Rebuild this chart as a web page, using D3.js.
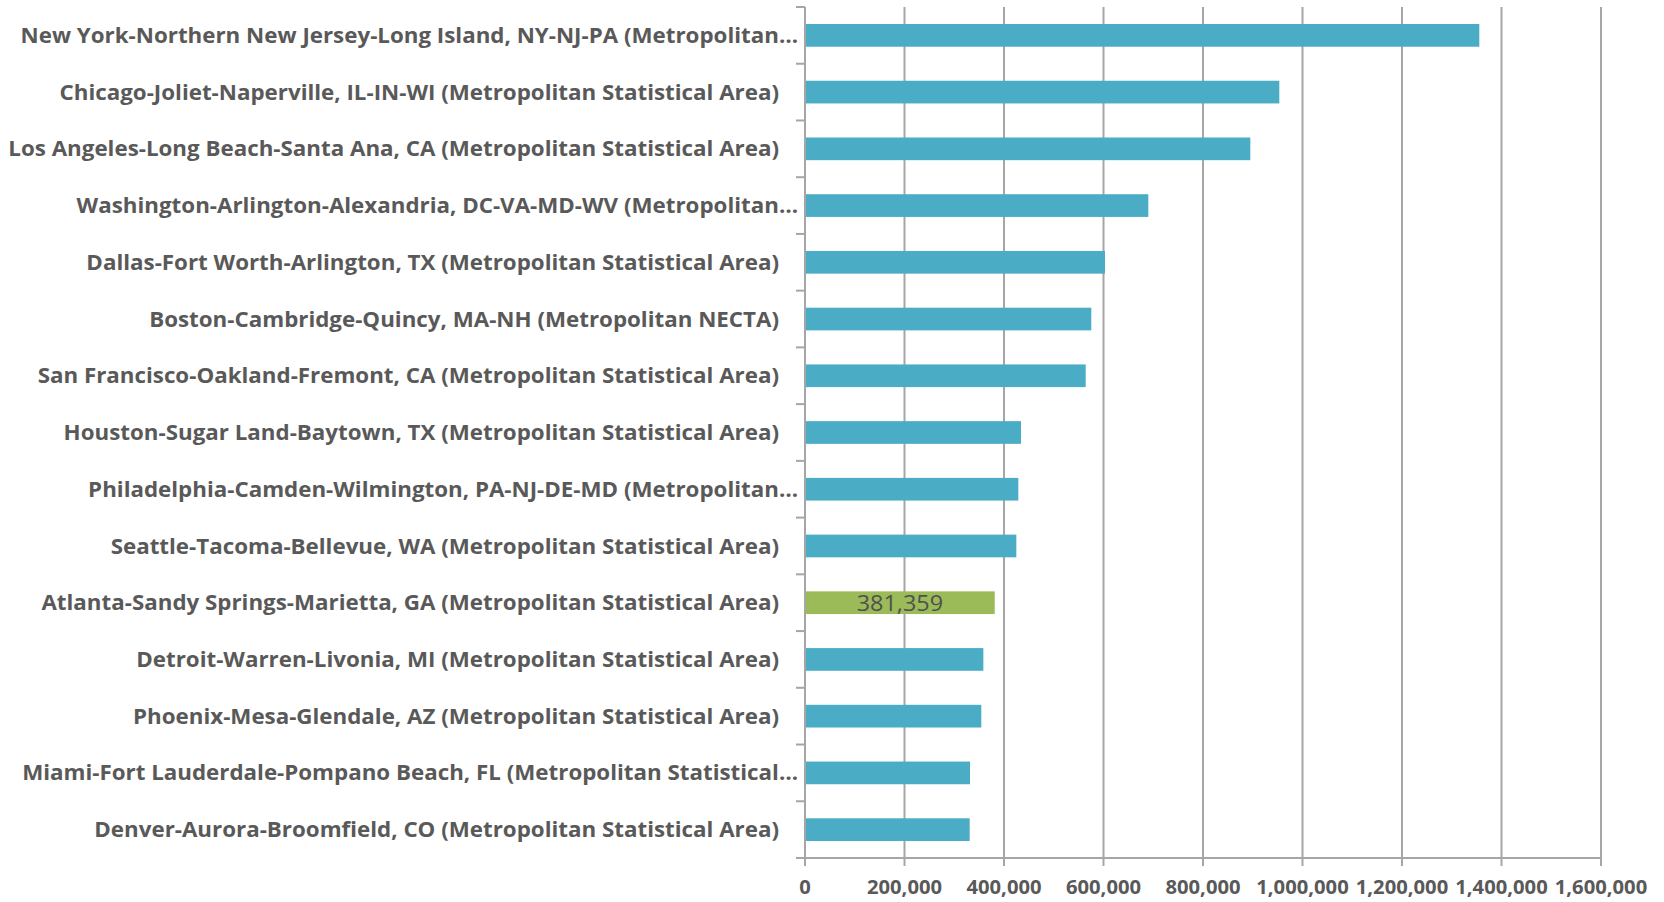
<!DOCTYPE html>
<html>
<head>
<meta charset="utf-8">
<script src="https://cdn.jsdelivr.net/npm/d3@7"></script>
<style>
  html, body { margin: 0; padding: 0; background: #ffffff; }
  svg { display: block; }
  text { font-family: "Open Sans", "DejaVu Sans", sans-serif; }
</style>
</head>
<body>
<svg id="chart" width="1664" height="902"></svg>
<script>
const categories = [
  "New York-Northern New Jersey-Long Island, NY-NJ-PA (Metropolitan…",
  "Chicago-Joliet-Naperville, IL-IN-WI (Metropolitan Statistical Area)",
  "Los Angeles-Long Beach-Santa Ana, CA (Metropolitan Statistical Area)",
  "Washington-Arlington-Alexandria, DC-VA-MD-WV (Metropolitan…",
  "Dallas-Fort Worth-Arlington, TX (Metropolitan Statistical Area)",
  "Boston-Cambridge-Quincy, MA-NH (Metropolitan NECTA)",
  "San Francisco-Oakland-Fremont, CA (Metropolitan Statistical Area)",
  "Houston-Sugar Land-Baytown, TX (Metropolitan Statistical Area)",
  "Philadelphia-Camden-Wilmington, PA-NJ-DE-MD (Metropolitan…",
  "Seattle-Tacoma-Bellevue, WA (Metropolitan Statistical Area)",
  "Atlanta-Sandy Springs-Marietta, GA (Metropolitan Statistical Area)",
  "Detroit-Warren-Livonia, MI (Metropolitan Statistical Area)",
  "Phoenix-Mesa-Glendale, AZ (Metropolitan Statistical Area)",
  "Miami-Fort Lauderdale-Pompano Beach, FL (Metropolitan Statistical…",
  "Denver-Aurora-Broomfield, CO (Metropolitan Statistical Area)"
];
const values = [1355400, 953400, 895100, 690100, 603000, 575500, 564200, 434200, 428800, 424800, 381359, 358500, 354400, 331700, 331000];
const highlighted = ["Atlanta-Sandy Springs-Marietta, GA (Metropolitan Statistical Area)"];
const tickValues = [0, 200000, 400000, 600000, 800000, 1000000, 1200000, 1400000, 1600000];

(function () {
const data = categories.map((c, i) => ({ name: c, value: values[i] }));

const svg = d3.select("#chart");
const mLeft = 805, mRight = 1601, mTop = 7, mBottom = 858;
const gridColor = "#a6a6a6";
const textColor = "#595959";

const x = d3.scaleLinear().domain([0, 1600000]).range([mLeft, mRight]);
const y = d3.scaleBand().domain(categories).range([mTop, mBottom]).paddingInner(0.6).paddingOuter(0.3);

// gridlines
svg.append("g").selectAll("line").data(tickValues.filter(d => d > 0)).join("line")
  .attr("x1", d => x(d)).attr("x2", d => x(d))
  .attr("y1", mTop).attr("y2", mBottom)
  .attr("stroke", gridColor).attr("stroke-width", 2);

// bars
svg.append("g").selectAll("rect").data(data).join("rect")
  .attr("x", x(0))
  .attr("y", d => y(d.name))
  .attr("width", d => x(d.value) - x(0))
  .attr("height", y.bandwidth())
  .attr("fill", d => highlighted.includes(d.name) ? "#9bbb59" : "#4bacc6");

// y axis line + ticks at band boundaries
const step = y.step();
const yAxis = svg.append("g");
yAxis.append("line").attr("x1", x(0)).attr("x2", x(0)).attr("y1", mTop).attr("y2", mBottom)
  .attr("stroke", gridColor).attr("stroke-width", 2);
const boundaries = d3.range(categories.length).map(i => mTop + i * step);
yAxis.selectAll("line.t").data(boundaries).join("line").attr("class", "t")
  .attr("x1", x(0) - 9).attr("x2", x(0)).attr("y1", d => d).attr("y2", d => d)
  .attr("stroke", gridColor).attr("stroke-width", 2);

// x axis
const xAxis = svg.append("g");
xAxis.append("line").attr("x1", x(0) - 9).attr("x2", mRight).attr("y1", mBottom).attr("y2", mBottom)
  .attr("stroke", gridColor).attr("stroke-width", 2);
xAxis.selectAll("line.t").data(tickValues).join("line").attr("class", "t")
  .attr("x1", d => x(d)).attr("x2", d => x(d)).attr("y1", mBottom).attr("y2", mBottom + 8)
  .attr("stroke", gridColor).attr("stroke-width", 2);

// measure compression factor to mimic a condensed font
const probe = svg.append("text").attr("font-size", 21).attr("font-weight", 700)
  .text(categories[1]);
const f = 720 / probe.node().getComputedTextLength();
probe.remove();

// category labels
svg.append("g").selectAll("text").data(data).join("text")
  .attr("transform", d => `translate(${d.name.endsWith("…") ? 798 : 779},${y(d.name) + y.bandwidth() / 2}) scale(${f},1)`)
  .attr("text-anchor", "end")
  .attr("dy", "0.36em")
  .attr("font-size", 21)
  .attr("font-weight", 700)
  .attr("fill", textColor)
  .text(d => d.name);

// x tick labels
const fmt = d3.format(",");
svg.append("g").selectAll("text").data(tickValues).join("text")
  .attr("transform", d => `translate(${x(d)},887) scale(${f},1)`)
  .attr("text-anchor", "middle")
  .attr("dy", "0.36em")
  .attr("font-size", 19)
  .attr("font-weight", 700)
  .attr("fill", textColor)
  .text(d => fmt(d));

// data label for highlighted bar
svg.append("g").selectAll("text").data(data.filter(d => highlighted.includes(d.name))).join("text")
  .attr("transform", d => `translate(${(x(0) + x(d.value)) / 2},${y(d.name) + y.bandwidth() / 2}) scale(${f},1)`)
  .attr("text-anchor", "middle")
  .attr("dy", "0.38em")
  .attr("font-size", 22)
  .attr("fill", "#505050")
  .text(d => fmt(d.value));
})();
</script>
</body>
</html>
